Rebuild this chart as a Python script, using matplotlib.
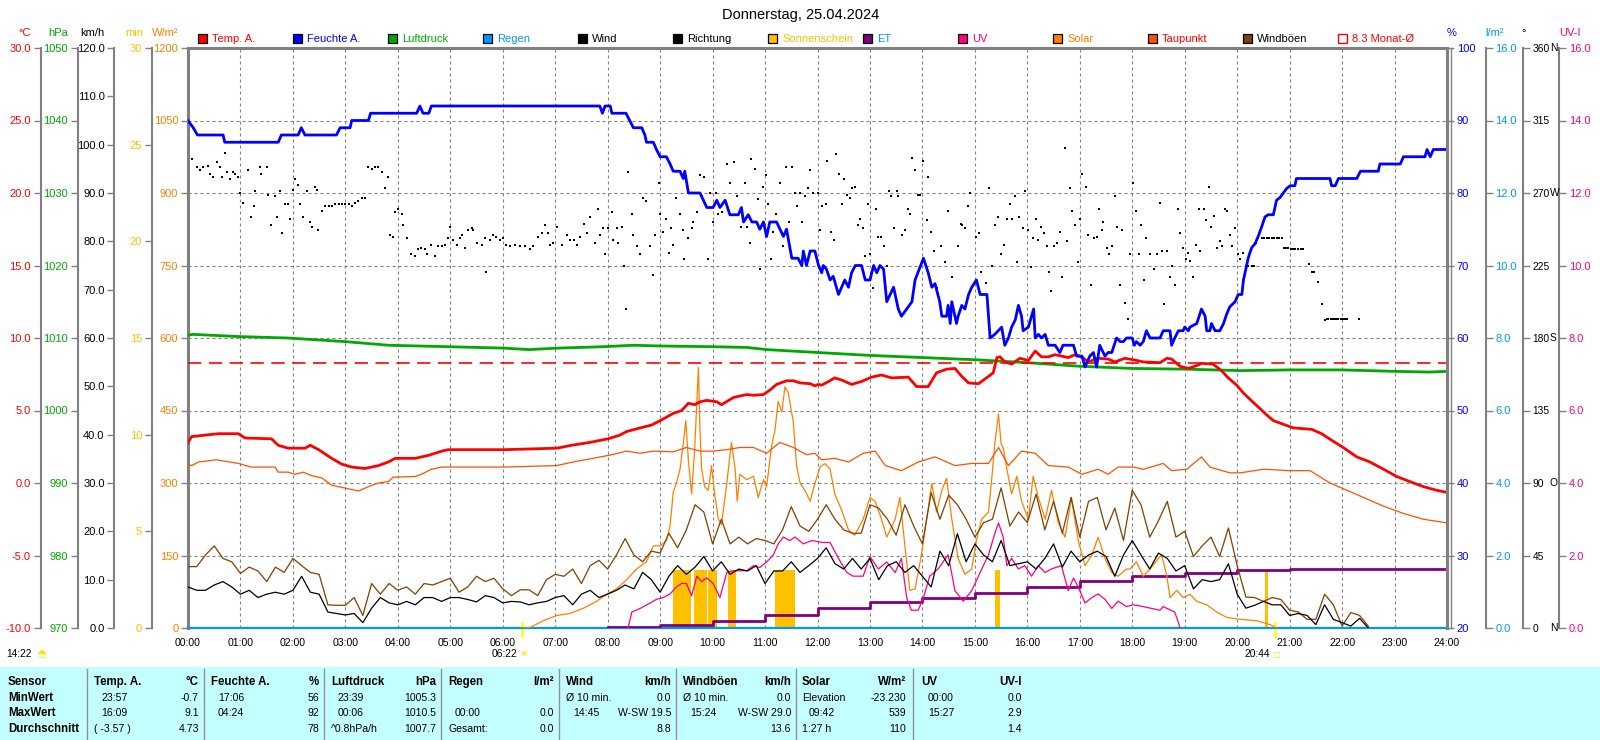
import numpy as np
import matplotlib
matplotlib.use("Agg")
import matplotlib.pyplot as plt
from matplotlib.patches import Rectangle
from matplotlib.lines import Line2D

plt.rcParams['font.family'] = ['Liberation Sans', 'DejaVu Sans']

# ---------------- data ----------------
title = "Donnerstag, 25.04.2024"
hours = list(range(25))
hour_labels = [f"{h:02d}:00" for h in hours]

humidity_obs = [(0.0,90),(0.1,89),(0.18,88),(0.67,88),(0.7,87),(1.72,87),(1.78,88),(2.1,88),(2.16,89),(2.23,88),
    (2.83,88),(2.9,89),(3.09,89),(3.12,90),(3.44,90),(3.48,91),(4.36,91),(4.42,92),(4.48,91),(4.59,91),(4.64,92),
    (7.85,92),(7.9,91),(7.95,92),(8.05,92),(8.08,91),(8.35,91),(8.42,90),(8.49,89),(8.65,89),(8.71,88),(8.74,87),
    (8.87,87),(8.93,86),(9.0,85),(9.12,85),(9.19,84),(9.25,83),(9.38,83),(9.44,82),(9.47,83),(9.54,80),(9.76,80),
    (9.89,78),(10.01,78),(10.08,79),(10.14,78),(10.24,79),(10.33,77),(10.49,77),(10.55,78),(10.59,76),(10.68,77),
    (10.75,76),(10.84,76),(10.90,75),(10.97,76),(11.03,74),(11.09,76),(11.22,76),(11.35,74),(11.41,75),(11.51,71),
    (11.63,71),(11.70,70),(11.73,72),(11.79,70),(11.86,72),(11.95,72),(12.02,70),(12.08,69),(12.11,70),(12.17,69.5),
    (12.24,68),(12.30,68.5),(12.40,66),(12.46,67),(12.52,68),(12.59,67),(12.65,69),(12.72,70),(12.84,70),(12.91,68),
    (13.0,68),(13.07,70),(13.13,69),(13.19,70),(13.26,69.5),(13.32,65),(13.45,67),(13.54,64),(13.60,63),(13.70,64),
    (13.80,65),(13.86,68),(14.02,71),(14.11,69),(14.18,67),(14.24,67.5),(14.33,65),(14.37,63),(14.46,63),(14.49,64.5),
    (14.53,62),(14.56,65),(14.65,62),(14.68,63),(14.75,64.5),(14.81,64),(14.88,66),(14.94,67),(15.03,68),(15.10,66),
    (15.23,66),(15.29,60),(15.38,60.5),(15.51,61.5),(15.57,59),(15.64,60),(15.70,61.5),(15.77,62.5),(15.83,64.5),
    (15.89,63),(15.92,61),(16.02,61.5),(16.12,64),(16.15,60),(16.21,60.5),(16.27,60),(16.34,60.5),(16.40,59),
    (16.53,59),(16.62,58),(16.68,59),(16.88,59),(16.94,57.5),(17.04,57.5),(17.10,56),(17.19,57.5),(17.26,58),
    (17.32,56),(17.38,59),(17.48,57.5),(17.54,58),(17.61,58),(17.70,60),(17.77,59.5),(17.83,59.5),(17.89,60),
    (18.0,60),(18.04,59),(18.08,59.5),(18.15,59),(18.21,59.5),(18.27,61),(18.34,60),(18.53,60),(18.59,61),(18.72,61),
    (18.75,59),(18.81,60),(18.88,61),(18.97,61),(19.0,61.5),(19.07,61),(19.10,61.5),(19.23,62),(19.32,64),(19.39,63),
    (19.42,61),(19.48,61),(19.51,62),(19.58,61),(19.67,61),(19.74,62),(19.80,63.3),(19.86,64.3),(19.96,65),(20.02,66),
    (20.09,66),(20.12,68),(20.18,70),(20.21,71),(20.24,71.7),(20.28,72.5),(20.34,73),(20.40,74),(20.47,75.4),
    (20.53,76.7),(20.59,77),(20.69,77),(20.75,79),(20.82,79.4),(20.88,80),(20.94,80.6),(21.01,81),(21.10,81),
    (21.13,82),(21.77,82),(21.80,81),(21.87,81),(21.93,82),(22.28,82),(22.35,83),(22.69,83),(22.72,84),(23.11,84),
    (23.17,85),(23.58,85),(23.62,86),(23.68,85),(23.74,86),(24.0,86)]

temp_obs = [(0,2.8),(0.07,3.2),(0.32,3.3),(0.58,3.4),(0.96,3.4),(1.09,3.1),(1.59,3.05),(1.72,2.6),(1.91,2.4),
    (2.23,2.4),(2.33,2.6),(2.49,2.3),(2.74,1.7),(2.93,1.3),(3.12,1.1),(3.37,1.0),(3.63,1.2),(3.82,1.45),(3.95,1.7),
    (4.33,1.7),(4.58,1.9),(4.84,2.2),(4.96,2.3),(6.04,2.3),(7.03,2.4),(7.31,2.6),(7.66,2.8),(8.01,3.05),(8.23,3.3),
    (8.36,3.55),(8.62,3.8),(8.84,4.0),(9.0,4.3),(9.25,4.8),(9.41,5.0),(9.54,5.5),(9.66,5.4),(9.76,5.6),(9.89,5.7),
    (10.08,5.6),(10.17,5.4),(10.4,5.9),(10.65,6.1),(10.78,6.05),(10.97,6.1),(11.09,6.4),(11.22,6.8),(11.41,7.05),
    (11.54,7.05),(11.67,6.9),(11.86,6.85),(11.95,6.7),(12.02,6.8),(12.08,6.75),(12.21,7.0),(12.33,7.25),(12.46,7.1),
    (12.65,6.8),(12.84,7.0),(13.03,7.3),(13.22,7.45),(13.41,7.25),(13.73,7.3),(13.89,6.65),(14.11,6.65),(14.27,7.6),
    (14.46,7.85),(14.62,7.9),(14.75,7.35),(14.88,6.9),(15.07,6.85),(15.26,7.35),(15.35,7.6),(15.42,8.65),(15.48,8.7),
    (15.57,8.35),(15.70,8.2),(15.86,8.6),(16.02,8.45),(16.15,9.1),(16.27,8.7),(16.40,8.7),(16.53,8.85),(16.78,8.65),
    (16.91,8.85),(17.04,8.7),(17.16,8.35),(17.35,8.6),(17.54,8.55),(17.67,8.35),(17.86,8.6),(18.02,8.5),(18.21,8.35),
    (18.53,8.3),(18.66,8.6),(18.75,8.55),(18.91,8.05),(19.07,7.9),(19.23,8.1),(19.32,8.25),(19.54,8.2),(19.70,7.75),
    (19.83,7.25),(19.99,6.75),(20.12,6.2),(20.28,5.65),(20.40,5.25),(20.53,4.8),(20.69,4.3),(20.88,4.05),(21.07,3.8),
    (21.42,3.7),(21.61,3.4),(21.80,2.95),(22.02,2.45),(22.28,1.8),(22.53,1.45),(22.79,0.95),(23.04,0.45),(23.29,0.1),
    (23.55,-0.25),(23.80,-0.5),(24.0,-0.65)]

dewpoint_obs = [(0,1.3),(0.07,1.2),(0.2,1.45),(0.54,1.6),(0.96,1.35),(1.2,1.1),(1.66,1.1),(1.72,0.75),(1.91,0.75),
    (2.04,0.6),(2.2,0.75),(2.36,0.5),(2.55,0.35),(2.74,-0.15),(2.93,-0.3),(3.12,-0.45),(3.25,-0.55),(3.44,-0.25),
    (3.63,0.0),(3.82,0.1),(3.91,0.4),(4.33,0.45),(4.45,0.6),(4.64,0.95),(4.84,1.1),(6.04,1.1),(7.03,1.2),(7.34,1.45),
    (7.72,1.7),(8.08,1.95),(8.36,2.2),(8.62,2.05),(8.87,2.2),(9.25,2.15),(9.50,2.45),(9.76,2.2),(10.01,2.2),
    (10.27,2.3),(10.52,2.45),(10.78,2.45),(11.03,2.05),(11.28,2.8),(11.54,2.45),(11.79,1.95),(11.95,2.05),
    (12.08,1.6),(12.33,1.7),(12.59,1.45),(12.87,2.05),(13.10,2.2),(13.29,1.2),(13.60,0.85),(13.92,1.45),(14.24,1.8),
    (14.62,1.2),(14.94,1.35),(15.26,1.35),(15.45,2.45),(15.64,1.2),(15.89,2.2),(16.15,2.05),(16.40,1.2),(16.78,1.1),
    (17.04,0.6),(17.35,0.95),(17.54,0.6),(17.73,1.1),(18.02,1.1),(18.21,0.95),(18.59,1.35),(18.75,0.85),(19.04,0.95),
    (19.32,1.8),(19.48,1.1),(19.86,0.7),(20.06,0.7),(20.50,0.95),(21.01,0.85),(21.39,0.85),(21.77,0.0),(22.41,-1.0),
    (22.79,-1.6),(23.17,-2.1),(23.55,-2.5),(24.0,-2.75)]

pressure_obs = [(0,1010.4),(0.1,1010.5),(0.96,1010.2),(1.9,1010.0),(3.0,1009.5),(3.82,1009.0),(4.96,1008.8),
    (6.04,1008.6),(6.5,1008.4),(7.03,1008.6),(7.92,1008.8),(8.49,1009.0),(9.0,1008.9),(10.0,1008.8),(10.65,1008.7),
    (11.03,1008.4),(12.0,1008.0),(13.0,1007.6),(14.0,1007.3),(15.0,1007.0),(16.0,1006.6),(17.0,1006.1),(18.0,1005.8),
    (19.04,1005.7),(20.06,1005.5),(21.0,1005.6),(22.0,1005.6),(23.0,1005.4),(23.65,1005.3),(24.0,1005.4)]

month_avg_temp = 8.3

# wind & gusts, 10-minute values from 00:00 to 22:30 (km/h)
wind_kmh = [8.5,7.8,7.8,8.9,9.6,8.5,7.0,7.8,6.3,7.0,7.4,7.0,7.8,10.7,7.4,7.0,3.3,3.0,2.7,3.0,1.1,4.1,6.3,5.2,4.8,
    5.5,4.8,6.3,6.3,5.5,6.3,6.3,5.9,5.4,6.7,6.3,5.2,
    5.5,5.4,4.8,5.2,5.5,6.3,6.7,4.8,7.0,7.8,6.3,7.0,7.8,8.9,8.1,11.5,10.0,7.4,10.7,12.9,11.1,12.6,14.8,11.8,13.7,
    11.1,12.2,11.8,12.9,9.2,11.8,11.8,13.7,11.5,12.9,14.4,
    16.6,13.3,12.2,14.4,12.2,14.4,10.0,12.9,13.7,11.5,12.9,10.7,8.5,15.9,12.9,19.5,13.7,17.4,15.1,13.7,18.1,12.9,
    13.3,13.7,12.2,14.4,17.4,12.6,15.9,13.7,15.1,15.9,14.8,10.7,15.1,18.1,
    15.1,12.2,15.5,14.4,11.8,12.9,8.1,10.0,9.6,10.0,13.3,7.0,4.1,4.7,5.5,4.8,4.8,2.6,3.0,2.6,0.7,4.8,1.8,1.1,0.4,
    2.0,0.0]
gust_kmh = [12.7,12.7,15.1,17.0,14.4,13.7,11.3,12.6,11.8,9.6,12.6,11.5,14.4,12.9,11.5,11.1,4.8,4.7,4.7,6.3,2.6,
    9.2,7.0,9.2,7.8,8.5,7.0,9.2,8.9,9.6,10.3,7.4,8.5,10.7,9.6,10.3,8.1,
    6.7,7.9,7.9,6.7,10.0,11.1,10.7,12.2,9.2,12.9,14.0,12.2,15.1,18.5,15.1,13.7,15.9,15.5,19.6,16.6,20.3,25.5,24.0,
    17.4,22.5,17.4,18.8,17.4,18.5,18.1,17.4,20.3,25.1,21.1,20.0,22.5,
    25.5,22.5,20.3,19.6,19.6,25.5,24.8,22.5,19.2,25.5,21.1,17.4,28.0,22.5,27.5,25.5,22.5,18.8,21.8,22.5,29.0,21.1,
    24.0,21.8,27.7,20.3,26.2,19.6,27.0,18.8,26.2,27.0,20.3,24.8,18.1,28.5,
    25.5,18.8,22.2,26.2,18.8,20.0,14.8,17.0,18.8,14.8,20.7,12.9,6.4,6.3,5.5,6.3,5.9,3.7,3.3,1.8,1.8,7.0,4.8,0.4,
    3.2,2.6,0.4]

wind_dir_obs = [(0.07,291),(0.17,286),(0.23,284),(0.29,286),(0.39,287),(0.42,282),(0.48,280),(0.55,289),(0.61,286),
    (0.64,280),(0.71,295),(0.74,283),(0.80,279),(0.86,283),(0.90,282),(0.96,280),(0.99,270),(1.05,264),(1.15,284),
    (1.21,255),(1.25,262),(1.28,271),(1.37,286),(1.40,282),(1.50,286),(1.53,269),(1.59,250),(1.66,268),(1.69,255),
    (1.75,271),(1.79,245),(1.85,263),(1.91,263),(1.94,254),(2.01,272),(2.04,279),(2.10,275),(2.14,263),(2.20,255),
    (2.26,271),(2.33,252),(2.36,249),(2.42,274),(2.45,272),(2.48,247),(2.55,259),(2.61,262),(2.68,262),(2.74,262),
    (2.80,263),(2.87,263),(2.93,263),(2.99,263),(3.06,263),(3.12,262),(3.18,264),(3.25,265),(3.31,267),(3.37,267),
    (3.44,286),(3.50,285),(3.56,286),(3.63,286),(3.69,283),(3.75,273),(3.82,280),(3.85,244),(3.91,243),(3.95,258),
    (4.01,260),(4.07,257),(4.10,250),(4.17,242),(4.26,232),(4.33,231),(4.39,235),(4.45,236),(4.52,235),(4.55,232),
    (4.64,238),(4.71,231),(4.77,237),(4.84,237),(4.90,238),(4.96,242),(4.99,249),(5.06,241),(5.12,238),(5.18,242),
    (5.22,244),(5.28,236),(5.34,247),(5.41,248),(5.44,247),(5.50,239),(5.60,238),(5.66,242),(5.69,221),(5.76,241),
    (5.82,244),(5.88,243),(5.95,241),(6.01,242),
    (6.07,238),(6.14,237),(6.23,238),(6.33,237),(6.42,237),(6.52,235),(6.58,237),(6.68,243),(6.74,245),(6.80,250),
    (6.87,245),(6.90,238),(6.96,239),(7.03,249),(7.12,238),(7.22,244),(7.28,241),(7.35,241),(7.41,238),(7.47,243),
    (7.54,251),(7.60,245),(7.66,255),(7.76,239),(7.82,260),(7.85,244),(7.92,248),(7.95,232),(8.01,248),(8.08,258),
    (8.11,241),(8.17,248),(8.20,239),(8.27,249),(8.31,225),(8.35,198),(8.39,283),(8.46,257),(8.49,244),(8.55,237),
    (8.62,232),(8.67,267),(8.74,265),(8.81,237),(8.86,219),(8.90,244),(8.97,276),(9.00,257),(9.05,246),(9.11,254),
    (9.16,233),(9.20,248),(9.25,238),(9.31,267),(9.38,257),(9.43,247),(9.45,229),(9.54,242),(9.60,248),(9.63,252),
    (9.70,258),(9.76,281),(9.79,268),(9.84,280),(9.92,229),(9.95,270),(10.01,252),(10.06,270),(10.11,257),
    (10.17,258),(10.27,288),(10.33,276),(10.40,289),(10.46,268),(10.55,249),(10.62,276),(10.65,249),(10.71,239),
    (10.74,291),(10.81,285),(10.87,266),(10.90,223),(10.97,274),(11.02,281),(11.06,263),(11.11,229),(11.16,246),
    (11.21,257),(11.28,276),(11.35,237),(11.40,286),(11.46,252),(11.51,286),(11.57,270),(11.61,262),(11.67,270),
    (11.70,252),(11.76,268),(11.81,273),(11.86,284),(11.92,270),
    (12.01,270),(12.05,247),(12.09,262),(12.16,263),(12.19,290),(12.26,246),(12.32,241),(12.36,294),(12.41,282),
    (12.46,263),(12.51,279),(12.57,269),(12.62,267),(12.66,273),(12.71,274),(12.77,250),(12.81,254),(12.87,248),
    (12.91,231),(12.96,263),(13.00,232),(13.06,211),(13.11,260),(13.15,243),(13.21,243),(13.27,237),(13.32,225),
    (13.36,271),(13.41,268),(13.46,248),(13.51,271),(13.54,268),(13.62,244),(13.66,247),(13.72,260),(13.76,257),
    (13.81,292),(13.86,284),(13.91,269),(13.95,269),(14.02,290),(14.08,253),(14.11,280),(14.16,246),(14.23,234),
    (14.27,211),(14.35,237),(14.43,227),(14.49,259),(14.56,218),(14.67,237),(14.73,251),(14.76,250),(14.81,248),
    (14.86,262),(14.91,270),(15.03,243),(15.07,245),(15.12,221),(15.21,214),(15.27,273),(15.33,225),(15.38,250),
    (15.45,255),(15.49,232),(15.55,238),(15.61,254),(15.67,263),(15.71,254),(15.76,268),(15.81,227),(15.85,255),
    (15.91,248),(15.95,271),(16.01,247),(16.07,224),(16.11,242),(16.16,254),(16.21,241),(16.26,249),(16.32,245),
    (16.37,237),(16.41,221),(16.46,209),(16.51,237),(16.56,239),(16.62,246),(16.67,218),(16.72,298),(16.76,240),
    (16.81,273),(16.86,259),(16.91,250),(16.97,227),(17.01,254),(17.05,282),(17.11,274),(17.16,244),(17.21,213),
    (17.28,242),(17.32,243),(17.37,260),(17.42,247),(17.45,252),(17.52,236),(17.56,232),(17.61,237),(17.67,268),
    (17.71,249),(17.77,213),(17.81,247),(17.86,202),(17.92,192),(17.96,232),
    (18.02,276),(18.07,259),(18.12,232),(18.17,250),(18.22,216),(18.26,242),(18.34,232),(18.41,223),(18.47,232),
    (18.52,264),(18.56,234),(18.60,201),(18.66,234),(18.72,218),(18.76,225),(18.81,213),(18.88,260),(18.91,245),
    (18.97,236),(19.02,229),(19.07,233),(19.11,228),(19.16,218),(19.21,238),(19.27,260),(19.30,234),(19.36,260),
    (19.41,253),(19.46,274),(19.51,249),(19.56,256),(19.62,236),(19.67,240),(19.72,237),(19.77,260),(19.81,259),
    (19.86,244),(19.91,237),(19.96,248),(20.01,232),(20.05,229),(20.12,233),(20.17,225),(20.21,225),(20.28,225),
    (20.32,225),(20.36,239),(20.40,242),(20.47,242),(20.51,242),(20.56,242),(20.61,242),(20.66,242),(20.70,242),
    (20.75,242),(20.80,242),(20.85,242),(20.89,236),(20.93,236),(20.97,236),(21.02,235),(21.07,235),(21.11,235),
    (21.16,235),(21.21,235),(21.26,235),(21.36,226),(21.42,221),(21.46,221),(21.55,215),(21.61,201),(21.67,191),
    (21.71,192),(21.74,192),(21.78,192),(21.82,192),(21.86,192),(21.90,192),(21.93,192),(21.97,192),(22.01,192),
    (22.05,192),(22.10,192),(22.33,192)]

solar_obs = [(6.37,0),(6.52,1),(6.77,15),(7.03,26),(7.28,30),(7.54,41),(7.79,55),(7.98,70),(8.17,81),(8.36,100),
    (8.55,122),(8.74,137),(8.87,170),(9.0,170),(9.12,181),(9.19,211),(9.25,281),(9.31,299),(9.38,329),(9.44,381),
    (9.49,429),(9.54,344),(9.60,277),(9.66,373),(9.70,469),(9.73,539),(9.76,410),(9.79,329),(9.85,292),(9.92,285),
    (9.98,336),(10.04,277),(10.11,225),(10.17,214),(10.27,299),(10.36,384),(10.43,329),(10.47,262),(10.52,318),
    (10.65,307),(10.78,314),(10.87,270),(10.97,307),(11.03,292),(11.12,373),(11.19,410),(11.25,469),(11.32,447),
    (11.38,499),(11.44,488),(11.54,425),(11.60,336),(11.67,299),(11.76,285),(11.86,262),(11.95,299),(12.05,333),
    (12.14,340),(12.24,329),(12.33,277),(12.46,244),(12.59,203),(12.71,192),(12.87,225),(13.0,270),(13.1,262),
    (13.22,225),(13.32,188),(13.48,225),(13.57,270),(13.67,166),(13.76,78),(13.86,81),(13.98,151),(14.08,225),
    (14.18,299),(14.27,240),(14.37,285),(14.46,310),(14.56,225),(14.68,144),(14.81,111),(14.94,122),(15.03,181),
    (15.13,225),(15.26,240),(15.32,307),(15.38,381),(15.45,443),(15.50,381),(15.54,373),(15.61,329),(15.70,277),
    (15.80,314),(15.89,262),(16.02,225),(16.11,314),(16.21,270),(16.34,225),(16.46,285),(16.59,218),(16.72,188),
    (16.84,270),(16.97,181),(17.10,129),(17.23,151),(17.35,188),(17.48,144),(17.61,115),(17.73,107),(17.89,122),
    (17.96,122),(18.08,137),(18.21,107),(18.34,122),(18.5,144),(18.56,151),(18.66,107),(18.72,63),(18.85,78),
    (18.97,63),(19.10,70),(19.23,55),(19.42,48),(19.61,33),(19.80,22),(20.05,18),(20.37,15),(20.63,7),(20.75,0)]

uv_obs = [(8.39,0),(8.46,0.44),(8.62,0.54),(8.81,0.69),(8.93,0.79),(9.06,0.84),(9.19,0.94),(9.31,1.13),(9.41,1.23),
    (9.50,1.23),(9.60,0.89),(9.70,1.43),(9.79,1.28),(9.89,1.38),(10.01,1.23),(10.14,0.84),(10.27,1.53),(10.40,1.58),
    (10.65,1.58),(10.78,1.72),(10.90,1.67),(11.03,1.82),(11.16,2.02),(11.25,2.32),(11.35,2.51),(11.47,2.41),
    (11.57,2.51),(11.73,2.32),(11.89,2.41),(11.95,2.4),(12.08,2.36),(12.24,2.36),(12.40,1.92),(12.56,1.53),
    (12.68,1.43),(12.87,1.43),(13.0,1.97),(13.16,1.63),(13.32,1.82),(13.48,1.53),(13.60,1.92),(13.70,0.84),
    (13.79,0.49),(13.92,0.49),(14.02,0.84),(14.14,1.43),(14.30,1.63),(14.49,2.02),(14.62,1.03),(14.78,0.74),
    (14.94,1.03),(15.10,1.53),(15.26,2.02),(15.38,2.61),(15.45,2.9),(15.54,2.51),(15.61,1.72),(15.70,1.92),
    (15.83,1.63),(15.95,1.72),(16.08,1.43),(16.21,1.72),(16.34,1.53),(16.46,1.63),(16.65,1.72),(16.78,1.03),
    (16.88,1.38),(16.97,1.13),(17.10,0.69),(17.23,0.84),(17.35,0.94),(17.48,0.79),(17.61,0.54),(17.73,0.74),
    (17.89,0.59),(18.02,0.64),(18.21,0.59),(18.53,0.49),(18.59,0.59),(18.81,0.44),(18.88,0.15),(18.91,0)]

et_hours = [8, 9, 10, 11, 12, 13, 14, 15, 16, 17, 18, 19, 20, 21, 24]
et_mm = [0.03, 0.08, 0.20, 0.37, 0.56, 0.71, 0.83, 0.96, 1.13, 1.31, 1.43, 1.53, 1.60, 1.63, 1.63]

rain_hours = [0, 24]
rain_mm = [0.0, 0.0]

sun_start = [9.25, 9.65, 9.92, 10.29, 11.19, 15.38, 20.54]
sun_end = [9.58, 9.89, 10.09, 10.44, 11.58, 15.48, 20.59]
sun_minutes = [3.0, 3.0, 3.0, 3.0, 3.0, 3.0, 3.0]

sunrise_h, sunset_h = 6.37, 20.73
sunrise_txt, sunset_txt, daylen_txt = "06:22", "20:44", "14:22"

compass_deg = [360, 270, 180, 90, 0]
compass_txt = ['N', 'W', 'S', 'O', 'N']

# colours
C_TEMP = '#FF0000'; C_HUM = '#0000FF'; C_PRESS = '#00A800'; C_RAIN = '#0096FF'
C_SUN = '#FFC000'; C_ET = '#800080'; C_UV = '#FF0080'; C_SOLAR = '#FF8000'
C_DEW = '#FF5000'; C_GUST = '#804000'; C_GRID = '#808080'

# ---------------- figure ----------------
W, H = 1600, 740
fig = plt.figure(figsize=(16, 7.4), dpi=100)
fig.patch.set_facecolor('white')
L, R, T, B = 188, 1447, 48, 628
ax = fig.add_axes([L / W, 1 - B / H, (R - L) / W, (B - T) / H])
ax.set_xlim(0, 24)
ax.set_ylim(0, 1200)
span = R - L

def fpos(px):
    return (px - L) / span

# main axis (W/m2)
ax.set_yticks(np.arange(0, 1201, 150))
ax.set_yticklabels([str(v) for v in range(0, 1201, 150)])
ax.tick_params(axis='y', colors=C_GRID, labelcolor=C_SOLAR, direction='out', length=5, width=1, pad=2, labelsize=8)
ax.set_xticks(hours)
ax.set_xticklabels(hour_labels)
ax.tick_params(axis='x', length=0, pad=7, labelsize=7.6, labelcolor='black')
ax.grid(True, color=C_GRID, linestyle=(0, (2.7, 2.7)), linewidth=0.8)
for s in ['left', 'top', 'right']:
    ax.spines[s].set_color(C_GRID)
    ax.spines[s].set_linewidth(2.2)
ax.spines['bottom'].set_visible(False)

def twin(side=None, pos=None, ylim=None, ticks=None, labels=None, color='black', size=8):
    a = ax.twinx()
    a.set_ylim(*ylim)
    a.set_xlim(0, 24)
    for s in a.spines.values():
        s.set_visible(False)
    if side is None:
        a.set_yticks([])
        return a
    sp = a.spines[side]
    sp.set_visible(True)
    sp.set_position(('axes', pos))
    sp.set_color(C_GRID)
    sp.set_linewidth(1.5)
    a.yaxis.set_ticks_position(side)
    a.yaxis.set_label_position(side)
    a.set_yticks(ticks)
    a.set_yticklabels(labels)
    a.tick_params(axis='y', colors=C_GRID, labelcolor=color, direction='out', length=5, width=1, pad=2,
                  labelsize=size)
    return a

ax_sun = twin('left', fpos(151.7), (0, 30), list(range(0, 31, 5)), [str(v) for v in range(0, 31, 5)], C_SUN)
ax_et = twin('right', fpos(1485.7), (0, 16), list(range(0, 17, 2)), [f"{v:.1f}" for v in range(0, 17, 2)], C_RAIN)
ax_uv = twin('right', fpos(1559), (0, 16), list(range(0, 17, 2)), [f"{v:.1f}" for v in range(0, 17, 2)], C_UV)
ax_sol = twin(ylim=(0, 1200))
ax_wind = twin('left', fpos(114.3), (0, 120), list(range(0, 121, 10)), [f"{v:.1f}" for v in range(0, 121, 10)], 'black')
ax_dir = twin('right', fpos(1522.7), (0, 360), list(range(0, 361, 45)), [str(v) for v in range(0, 361, 45)],
              'black', size=7.4)
ax_press = twin('left', fpos(77.7), (970, 1050), list(range(970, 1051, 10)), [str(v) for v in range(970, 1051, 10)], C_PRESS)
ax_temp = twin('left', fpos(40.7), (-10, 30), list(range(-10, 31, 5)), [f"{v:.1f}" for v in range(-10, 31, 5)], C_TEMP)
ax_hum = twin('right', 1.0, (20, 100), list(range(20, 101, 10)), [str(v) for v in range(20, 101, 10)], C_HUM)
ax_hum.spines['right'].set_linewidth(2.2)

# sunshine bars
ax_sun.bar(sun_start, sun_minutes, width=np.array(sun_end) - np.array(sun_start), align='edge',
           color=C_SUN, linewidth=0)
# rain & ET
ax_et.plot(rain_hours, rain_mm, color=C_RAIN, lw=1.6, clip_on=False)
ax_et.step(et_hours, et_mm, where='post', color=C_ET, lw=2.0)
# UV
ut, uv = zip(*uv_obs)
ax_uv.plot(ut, uv, color=C_UV, lw=0.9)
# solar
st, sv = zip(*solar_obs)
ax_sol.plot(st, sv, color=C_SOLAR, lw=0.9)
# wind & gusts
wt = np.arange(len(wind_kmh)) / 6.0
gt = np.arange(len(gust_kmh)) / 6.0
ax_wind.plot(gt, gust_kmh, color=C_GUST, lw=0.9)
ax_wind.plot(wt, wind_kmh, color='black', lw=0.9)
# direction
dt, dv = zip(*wind_dir_obs)
ax_dir.plot(dt, dv, linestyle='none', marker='s', ms=1.9, mew=0, color='black')
# pressure
pt, pv = zip(*pressure_obs)
ax_press.plot(pt, pv, color=C_PRESS, lw=2.0)
# temperature, dew point, monthly mean
tt, tv = zip(*temp_obs)
dpt, dpv = zip(*dewpoint_obs)
ax_temp.plot(dpt, dpv, color=C_DEW, lw=0.9)
ax_temp.axhline(month_avg_temp, color=C_TEMP, lw=1.2, linestyle=(0, (8, 4.5)))
ax_temp.plot(tt, tv, color=C_TEMP, lw=2.0)
# humidity
ht, hv = zip(*humidity_obs)
ax_hum.plot(ht, hv, color=C_HUM, lw=2.0)
# second (inner) line of the double right frame
ax.axvline(24, color=C_GRID, lw=1.0)
ax.plot([1.0028, 1.0028], [0, 1], transform=ax.transAxes, color=C_GRID, lw=1.0, clip_on=False)

# sunrise / sunset ticks
xt = ax.get_xaxis_transform()
for h in (sunrise_h, sunset_h):
    ax.plot([h, h], [-0.014, 0.008], transform=xt, color='#FFFF00', lw=1.8, clip_on=False, zorder=10)

def ftext(x, y, s, **kw):
    fig.text(x / W, 1 - y / H, s, **kw)

# title
ftext(801, 15, title, ha='center', va='center', fontsize=10.5)

# unit labels
for x, s, c in [(25, '°C', C_TEMP), (58, 'hPa', C_PRESS), (92, 'km/h', 'black'), (134, 'min', C_SUN),
                (165, 'W/m²', C_SOLAR), (1452, '%', C_HUM), (1494, 'l/m²', C_RAIN), (1524, '°', 'black'),
                (1570, 'UV-I', C_UV)]:
    ftext(x, 33, s, ha='center', va='center', fontsize=8, color=c)

# compass letters on direction axis
for deg, letter in zip(compass_deg, compass_txt):
    y = B - deg / 360 * (B - T)
    ftext(1550, y, letter, ha='left', va='center', fontsize=7.4, color='black')

# legend
legend_items = [('Temp. A.', C_TEMP, C_TEMP), ('Feuchte A.', C_HUM, C_HUM), ('Luftdruck', C_PRESS, C_PRESS),
                ('Regen', C_RAIN, C_RAIN), ('Wind', 'black', 'black'), ('Richtung', 'black', 'black'),
                ('Sonnenschein', C_SUN, C_SUN), ('ET', C_ET, C_RAIN), ('UV', C_UV, C_UV),
                ('Solar', C_SOLAR, C_SOLAR), ('Taupunkt', C_DEW, C_TEMP), ('Windböen', C_GUST, 'black'),
                ('8.3 Monat-Ø', None, C_TEMP)]
for i, (name, sq, tc) in enumerate(legend_items):
    x0 = 198 + i * 95
    if sq is None:
        rect = Rectangle((x0 / W, 1 - 43 / H), 9 / W, 9 / H, transform=fig.transFigure,
                         facecolor='white', edgecolor=C_TEMP, lw=1.0)
    else:
        rect = Rectangle((x0 / W, 1 - 43 / H), 9 / W, 9 / H, transform=fig.transFigure,
                         facecolor=sq, edgecolor='black', lw=0.9)
    fig.patches.append(rect)
    ftext(x0 + 14, 38.5, name, ha='left', va='center', fontsize=8, color=tc)

# sunrise / sunset / day length labels
xr = L + sunrise_h / 24 * span
xs = L + sunset_h / 24 * span
ftext(xr - 5, 654, sunrise_txt, ha='right', va='center', fontsize=7.4)
ftext(xr + 1, 654, '☀', ha='center', va='center', fontsize=7, color='#FFE000', family='DejaVu Sans')
ftext(xs - 5, 654, sunset_txt, ha='right', va='center', fontsize=7.4)
ftext(xs + 1, 654, '□', ha='center', va='center', fontsize=6, color='#FFE000', family='DejaVu Sans')
ftext(6, 654, daylen_txt, ha='left', va='center', fontsize=7.4)
ftext(42, 654, '◓', ha='center', va='center', fontsize=7, color='#FFE000', family='DejaVu Sans')

# ---------------- statistics table ----------------
fig.patches.append(Rectangle((0, 0), 1, 1 - 667 / H, transform=fig.transFigure,
                             facecolor='#C4FFFF', edgecolor='none', zorder=0))
for xsep in [87, 204, 324, 441, 559, 676, 796, 913]:
    fig.add_artist(Line2D([xsep / W, xsep / W], [0, 1 - 669 / H], transform=fig.transFigure,
                          color='#909090', lw=1.0))

row_y = [682, 698, 713, 729]
row_names = ['Sensor', 'MinWert', 'MaxWert', 'Durchschnitt']
for y, s in zip(row_y, row_names):
    ftext(8, y, s, ha='left', va='center', fontsize=8.3, fontweight='bold')

table_headers = [('Temp. A.', '°C'), ('Feuchte A.', '%'), ('Luftdruck', 'hPa'), ('Regen', 'l/m²'),
                 ('Wind', 'km/h'), ('Windböen', 'km/h'), ('Solar', 'W/m²'), ('UV', 'UV-I')]
table_left = [94, 211, 331, 448, 566, 683, 802, 921]
table_right = [199, 319, 436, 554, 671, 791, 906, 1022]
table_min = [('23:57', '-0.7'), ('17:06', '56'), ('23:39', '1005.3'), ('', ''),
             ('Ø 10 min.', '0.0'), ('Ø 10 min.', '0.0'), ('Elevation', '-23.230'), ('00:00', '0.0')]
table_max = [('16:09', '9.1'), ('04:24', '92'), ('00:06', '1010.5'), ('00:00', '0.0'),
             ('14:45', 'W-SW 19.5'), ('15:24', 'W-SW 29.0'), ('09:42', '539'), ('15:27', '2.9')]
table_avg = [('( -3.57 )', '4.73'), ('', '78'), ('^0.8hPa/h', '1007.7'), ('Gesamt:', '0.0'),
             ('', '8.8'), ('', '13.6'), ('1:27 h', '110'), ('', '1.4')]
time_indent = [True, True, True, True, False, False, False, True]

for i in range(len(table_headers)):
    xl, xr_ = table_left[i], table_right[i]
    ftext(xl, row_y[0], table_headers[i][0], ha='left', va='center', fontsize=8.3, fontweight='bold')
    ftext(xr_, row_y[0], table_headers[i][1], ha='right', va='center', fontsize=8.3, fontweight='bold')
    for row, y in ((table_min[i], row_y[1]), (table_max[i], row_y[2]), (table_avg[i], row_y[3])):
        left_s, right_s = row
        indent = 7 if (row is not table_avg[i] and (time_indent[i] or row is table_max[i])
                       and not left_s.startswith('Ø') and left_s != 'Elevation') else 0
        if left_s:
            ftext(xl + indent, y, left_s, ha='left', va='center', fontsize=7.6)
        if right_s:
            ftext(xr_, y, right_s, ha='right', va='center', fontsize=7.6)

fig.savefig('out.png', dpi=100, facecolor='white')
